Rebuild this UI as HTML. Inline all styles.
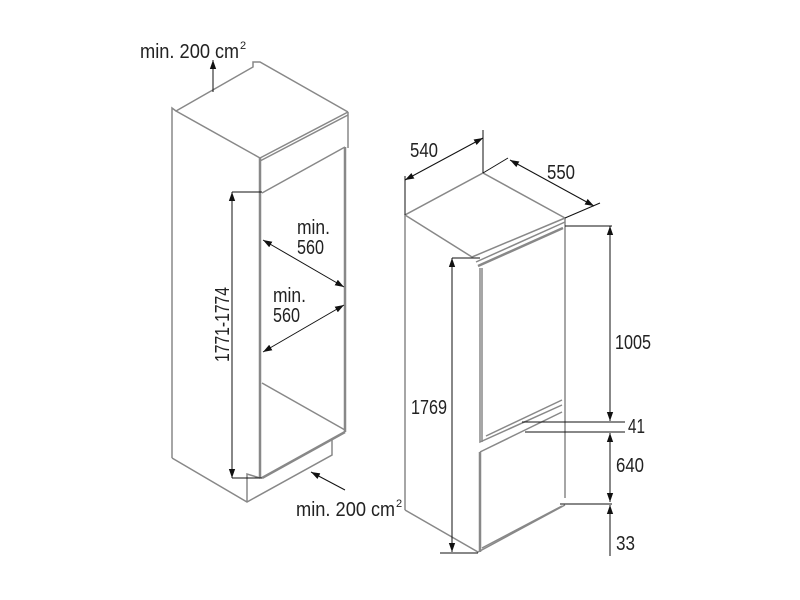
<!DOCTYPE html>
<html><head><meta charset="utf-8"><style>
html,body{margin:0;padding:0;background:#fff}
svg{display:block}
text{font-family:"Liberation Sans",sans-serif;font-size:20px;fill:#222}
</style></head><body>
<svg width="800" height="600" viewBox="0 0 800 600" xmlns="http://www.w3.org/2000/svg">
<defs>
<marker id="a" viewBox="0 0 10 10" refX="10" refY="5" markerWidth="9" markerHeight="9" orient="auto-start-reverse" markerUnits="userSpaceOnUse"><path d="M0,1.5 L10,5 L0,8.5 z" fill="#111"/></marker>
</defs>
<g fill="none" stroke="#888" stroke-width="1.5">
<polyline points="172,458 172,108 176,111 253,67 253,62 260,62 348,112"/>
<line x1="176" y1="111" x2="260" y2="158"/>
<line x1="260" y1="158" x2="348" y2="112"/>
<line x1="260" y1="161" x2="348" y2="115"/>
<line x1="348" y1="112" x2="348" y2="148"/>
<line x1="262" y1="193" x2="345" y2="147"/>
<line x1="260" y1="158" x2="260" y2="478" stroke-width="2.5"/>
<line x1="345" y1="147" x2="345" y2="432" stroke-width="2.5"/>
<line x1="262" y1="383" x2="345" y2="430"/>
<line x1="262" y1="478" x2="345" y2="432" stroke-width="2.5"/>
<polyline points="172,458 247,502 332,455 332,440"/>
<polyline points="247,502 247,474 260,478"/>
<polyline points="405,510 405,215 483,173 565,218"/>
<line x1="405" y1="215" x2="472" y2="257"/>
<line x1="472" y1="257" x2="565" y2="218"/>
<line x1="476" y1="262" x2="565" y2="222"/>
<line x1="478" y1="266" x2="563" y2="228" stroke-width="2.5"/>
<line x1="565" y1="218" x2="565" y2="498"/>
<polyline points="480,268 480,442 562,405"/>
<line x1="482" y1="268" x2="482" y2="442"/>
<line x1="486" y1="436" x2="562" y2="400"/>
<polyline points="480,452 562,412"/>
<line x1="480" y1="452" x2="480" y2="552" stroke-width="2.5"/>
<line x1="482" y1="548" x2="562" y2="506"/>
<polyline points="405,510 478,552 565,505"/>
</g>
<g fill="none" stroke="#111" stroke-width="1">
<line x1="213" y1="92" x2="213" y2="60" marker-end="url(#a)"/>
<polyline points="262,192 232,192"/>
<line x1="232" y1="192" x2="232" y2="478" marker-start="url(#a)" marker-end="url(#a)"/>
<line x1="232" y1="478" x2="262" y2="478"/>
<line x1="263" y1="240" x2="344" y2="287" marker-start="url(#a)" marker-end="url(#a)"/>
<line x1="344" y1="305" x2="263" y2="352" marker-start="url(#a)" marker-end="url(#a)"/>
<line x1="345" y1="490" x2="311" y2="472" marker-end="url(#a)"/>
<line x1="405" y1="215" x2="405" y2="176"/>
<line x1="483" y1="173" x2="483" y2="130"/>
<line x1="405" y1="180" x2="483" y2="138" marker-start="url(#a)" marker-end="url(#a)"/>
<line x1="565" y1="218" x2="600" y2="203"/>
<line x1="483" y1="173" x2="508" y2="158"/>
<line x1="510" y1="160" x2="594" y2="206" marker-start="url(#a)" marker-end="url(#a)"/>
<line x1="565" y1="226" x2="612" y2="226"/>
<line x1="610" y1="226" x2="610" y2="421" marker-start="url(#a)" marker-end="url(#a)"/>
<line x1="522" y1="422" x2="625" y2="422"/>
<line x1="525" y1="432" x2="625" y2="432"/>
<line x1="610" y1="433" x2="610" y2="502" marker-start="url(#a)" marker-end="url(#a)"/>
<line x1="560" y1="504" x2="612" y2="504"/>
<line x1="610" y1="505" x2="610" y2="556" marker-start="url(#a)"/>
<line x1="452" y1="258" x2="480" y2="258"/>
<line x1="452" y1="258" x2="452" y2="552" marker-start="url(#a)" marker-end="url(#a)"/>
<line x1="440" y1="553" x2="478" y2="553"/>
</g>
<text x="140" y="58" textLength="70" lengthAdjust="spacingAndGlyphs">min. 200</text>
<text x="215" y="58" textLength="24" lengthAdjust="spacingAndGlyphs">cm</text><text x="240" y="49" style="font-size:11px">2</text>
<text x="297" y="234" textLength="33" lengthAdjust="spacingAndGlyphs">min.</text>
<text x="297" y="254" textLength="27" lengthAdjust="spacingAndGlyphs">560</text>
<text x="273" y="302" textLength="33" lengthAdjust="spacingAndGlyphs">min.</text>
<text x="273" y="322" textLength="27" lengthAdjust="spacingAndGlyphs">560</text>
<text transform="translate(229,362) rotate(-90)" textLength="75" lengthAdjust="spacingAndGlyphs">1771-1774</text>
<text x="296" y="516" textLength="70" lengthAdjust="spacingAndGlyphs">min. 200</text>
<text x="371" y="516" textLength="24" lengthAdjust="spacingAndGlyphs">cm</text><text x="396" y="507" style="font-size:11px">2</text>
<text x="410" y="157" textLength="28" lengthAdjust="spacingAndGlyphs">540</text>
<text x="547" y="179" textLength="28" lengthAdjust="spacingAndGlyphs">550</text>
<text x="615" y="349" textLength="36" lengthAdjust="spacingAndGlyphs">1005</text>
<text x="628" y="433" textLength="17" lengthAdjust="spacingAndGlyphs">41</text>
<text x="616" y="472" textLength="28" lengthAdjust="spacingAndGlyphs">640</text>
<text x="616" y="550" textLength="19" lengthAdjust="spacingAndGlyphs">33</text>
<text x="411" y="414" textLength="36" lengthAdjust="spacingAndGlyphs">1769</text>
</svg>
</body></html>
